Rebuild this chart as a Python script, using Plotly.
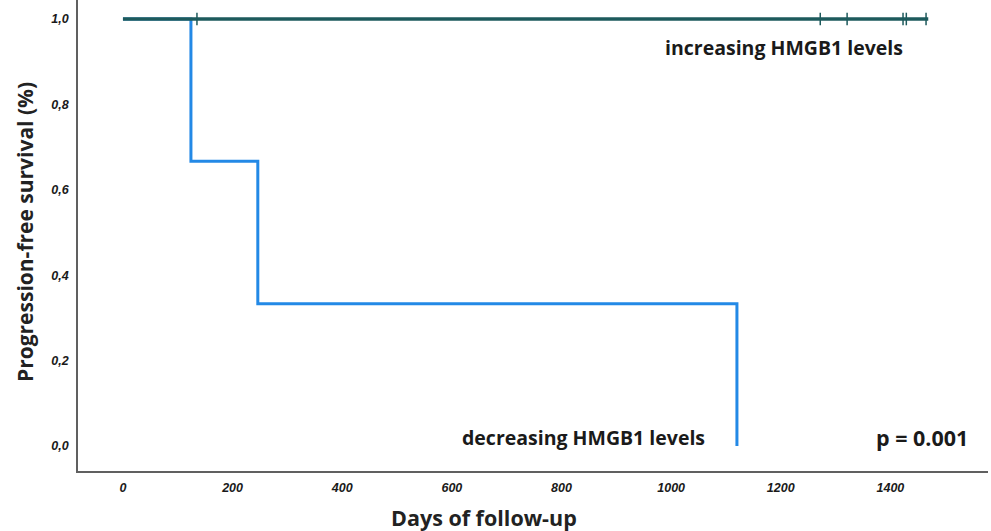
import plotly.graph_objects as go

# Kaplan-Meier step data (days, survival)
dec_days = [0, 124, 246, 1120]
dec_surv = [1.0, 0.667, 0.333, 0.0]
inc_days = [0, 1469]
inc_surv = [1.0, 1.0]
inc_censor_days = [135, 1272, 1321, 1423, 1429, 1465]
inc_censor_surv = [1.0, 1.0, 1.0, 1.0, 1.0, 1.0]

x_ticks = [0, 200, 400, 600, 800, 1000, 1200, 1400]
y_ticks = [0.0, 0.2, 0.4, 0.6, 0.8, 1.0]
y_tick_labels = ["0,0", "0,2", "0,4", "0,6", "0,8", "1,0"]

fig = go.Figure()

fig.add_trace(go.Scatter(x=dec_days, y=dec_surv, mode="lines",
                         line=dict(shape="hv", color="#2389E6", width=3),
                         showlegend=False, hoverinfo="skip"))
fig.add_trace(go.Scatter(x=inc_days, y=inc_surv, mode="lines",
                         line=dict(shape="hv", color="#1D5A5C", width=3.5),
                         showlegend=False, hoverinfo="skip"))
fig.add_trace(go.Scatter(x=inc_censor_days, y=inc_censor_surv, mode="markers",
                         marker=dict(symbol="line-ns", size=9,
                                     line=dict(color="#1D5A5C", width=1.5)),
                         showlegend=False, hoverinfo="skip"))

tickfont = dict(family="Liberation Sans, Arial, sans-serif", size=12.5,
                color="#1a1a1a", weight="bold", style="italic")
titlefont = dict(family="Open Sans, sans-serif", size=21.5, color="#222222",
                 weight="bold")
annfont = dict(family="Open Sans, sans-serif", size=19.5, color="#1a1a1a",
               weight="bold")

W, H = 991, 531
L, R, T, B = 78, 3, 0, 60
pw, ph = W - L - R, H - T - B


def px2paper(px, py):
    return (px - L) / pw, 1 - (py - T) / ph


annots = []
for text, px, py, font, ang in [
    ("increasing HMGB1 levels", 784, 48, annfont, 0),
    ("decreasing HMGB1 levels", 583, 437, annfont, 0),
    ("p = 0.001", 922, 437, dict(annfont, size=21.5), 0),
    ("Days of follow-up", 484, 517, titlefont, 0),
    ("Progression-free survival (%)", 25, 232, dict(titlefont, size=21), -90),
]:
    x, y = px2paper(px, py)
    annots.append(dict(text=text, x=x, y=y, xref="paper", yref="paper",
                       xanchor="center", yanchor="middle", showarrow=False,
                       font=font, textangle=ang))

fig.update_layout(
    width=W, height=H,
    margin=dict(l=L, r=R, t=T, b=B),
    plot_bgcolor="white", paper_bgcolor="white",
    xaxis=dict(range=[-82, 1578], tickvals=x_ticks, showgrid=False,
               zeroline=False, showline=True, linecolor="#606060", linewidth=1.5,
               ticks="", tickfont=tickfont, ticklabelstandoff=4),
    yaxis=dict(range=[-0.0585, 1.0445], tickvals=y_ticks, ticktext=y_tick_labels,
               showgrid=False, zeroline=False, showline=True, linecolor="#606060",
               linewidth=1.5, ticks="", tickfont=tickfont, ticklabelstandoff=5),
    annotations=annots,
)

fig.write_html("out.html", config={"displayModeBar": False},
               post_script="document.body.style.margin='0';document.body.style.padding='0';")
